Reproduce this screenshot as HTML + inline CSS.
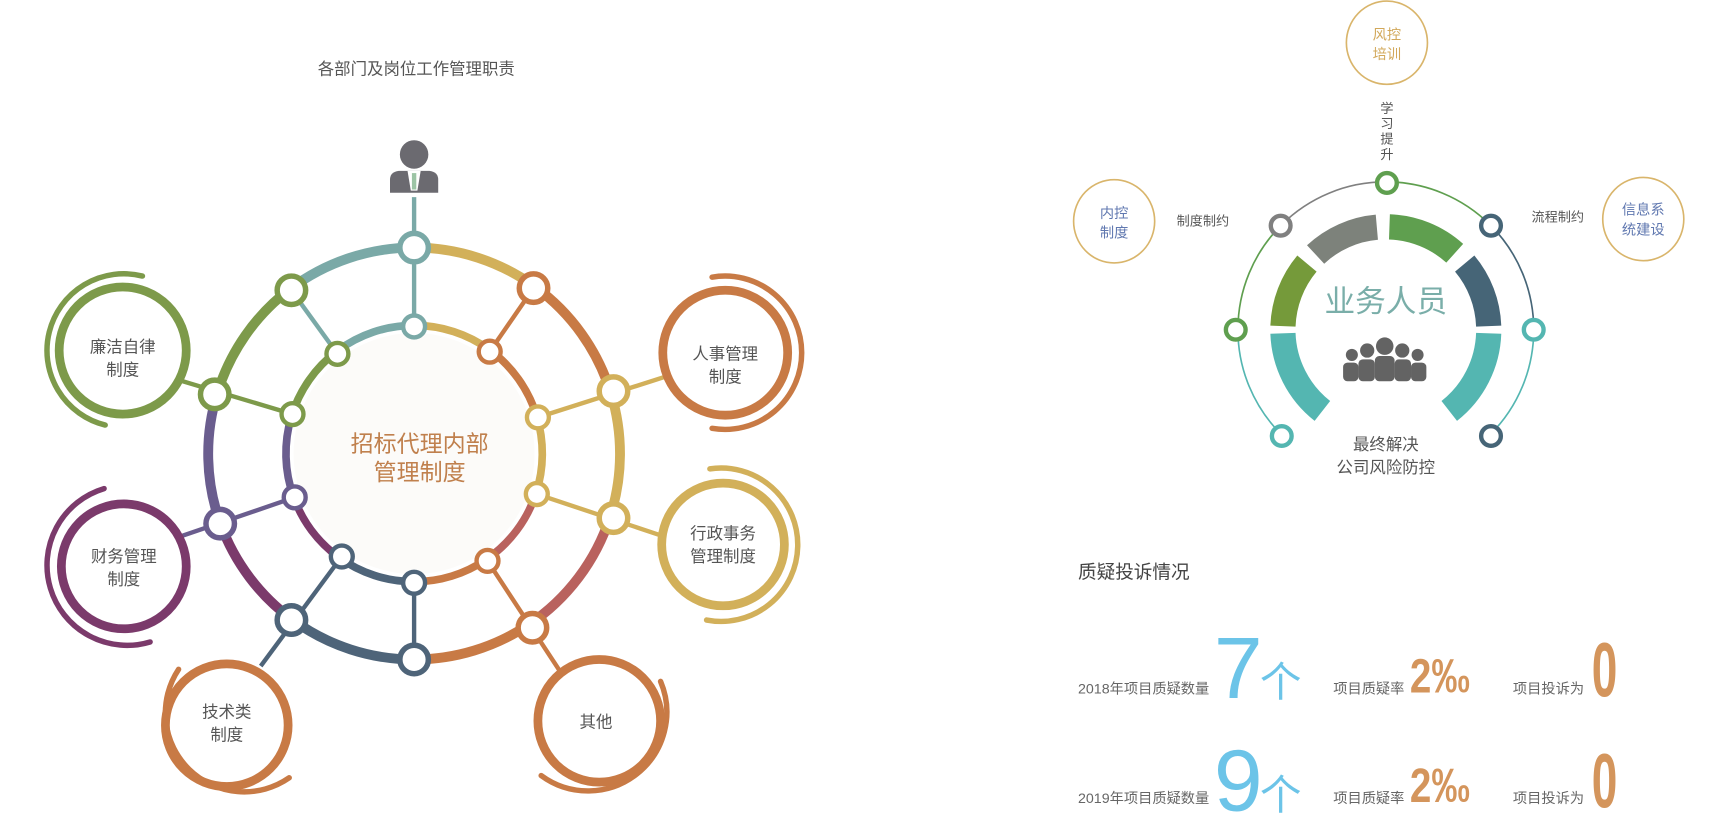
<!DOCTYPE html>
<html><head><meta charset="utf-8"><style>
html,body{margin:0;padding:0;background:#fff;}
svg{display:block;}
text{font-family:"Liberation Sans","Noto Sans CJK SC",sans-serif;}
</style></head><body>
<svg width="1709" height="833" viewBox="0 0 1560 760.4" preserveAspectRatio="none" xmlns="http://www.w3.org/2000/svg">
<rect width="1560" height="761" fill="#fff"/>
<text x="380" y="68" font-size="15" fill="#555" text-anchor="middle">各部门及岗位工作管理职责</text>

<circle cx="378" cy="414" r="110" fill="#fcfbf9"/>

<g fill="none" stroke-width="9">
<path d="M264.8,263.8 A188,188 0 0 1 378,226" stroke="#7aa9a7"/>
<path d="M378,226 A188,188 0 0 1 488.5,261.9" stroke="#d2b05a"/>
<path d="M488.5,261.9 A188,188 0 0 1 557.7,359.1" stroke="#c87a45"/>
<path d="M557.7,359.1 A188,188 0 0 1 556.8,472.1" stroke="#d2b05a"/>
<path d="M556.8,472.1 A188,188 0 0 1 483.1,569.9" stroke="#b9625e"/>
<path d="M483.1,569.9 A188,188 0 0 1 378,602" stroke="#c87a45"/>
<path d="M378,602 A188,188 0 0 1 267.5,566.1" stroke="#4e6479"/>
<path d="M267.5,566.1 A188,188 0 0 1 201.3,478.3" stroke="#7b3a6b"/>
<path d="M201.3,478.3 A188,188 0 0 1 198.3,359.1" stroke="#6a5d8e"/>
<path d="M198.3,359.1 A188,188 0 0 1 264.8,263.8" stroke="#7d9a4a"/>
</g>
<g fill="none" stroke-width="7">
<path d="M307.6,320.6 A117,117 0 0 1 378,297" stroke="#7aa9a7"/>
<path d="M378,297 A117,117 0 0 1 446.8,319.3" stroke="#d2b05a"/>
<path d="M446.8,319.3 A117,117 0 0 1 489.9,379.8" stroke="#c87a45"/>
<path d="M489.9,379.8 A117,117 0 0 1 489.3,450.2" stroke="#d2b05a"/>
<path d="M489.3,450.2 A117,117 0 0 1 443.4,511" stroke="#b9625e"/>
<path d="M443.4,511 A117,117 0 0 1 378,531" stroke="#c87a45"/>
<path d="M378,531 A117,117 0 0 1 309.2,508.7" stroke="#4e6479"/>
<path d="M309.2,508.7 A117,117 0 0 1 268.1,454" stroke="#7b3a6b"/>
<path d="M268.1,454 A117,117 0 0 1 266.1,379.8" stroke="#6a5d8e"/>
<path d="M266.1,379.8 A117,117 0 0 1 307.6,320.6" stroke="#7d9a4a"/>
</g>

<g stroke-width="4">
<line x1="378" y1="180" x2="378" y2="297" stroke="#7aa9a7"/>
<line x1="266" y1="265" x2="308" y2="323" stroke="#7aa9a7"/>
<line x1="487" y1="263" x2="447" y2="321" stroke="#c87a45"/>
<line x1="160" y1="346" x2="267" y2="378" stroke="#7d9a4a"/>
<line x1="607" y1="344" x2="491" y2="381" stroke="#d2b05a"/>
<line x1="158" y1="492" x2="269" y2="454" stroke="#6a5d8e"/>
<line x1="607" y1="490" x2="490" y2="451" stroke="#d2b05a"/>
<line x1="238" y1="608" x2="312" y2="508" stroke="#4e6479"/>
<line x1="512" y1="614" x2="445" y2="512" stroke="#c87a45"/>
<line x1="378" y1="532" x2="378" y2="602" stroke="#4e6479"/>
</g>

<g fill="#fff" stroke-width="5">
<circle cx="378" cy="226" r="13" stroke="#7aa9a7"/>
<circle cx="266" cy="265" r="13" stroke="#7d9a4a"/>
<circle cx="487" cy="263" r="13" stroke="#c87a45"/>
<circle cx="196" cy="360" r="13" stroke="#7d9a4a"/>
<circle cx="560" cy="357" r="13" stroke="#d2b05a"/>
<circle cx="201" cy="478" r="13" stroke="#6a5d8e"/>
<circle cx="560" cy="473" r="13" stroke="#d2b05a"/>
<circle cx="266" cy="566" r="13" stroke="#4e6479"/>
<circle cx="486" cy="573" r="13" stroke="#c87a45"/>
<circle cx="378" cy="602" r="13" stroke="#4e6479"/>
</g>
<g fill="#fff" stroke-width="4">
<circle cx="378" cy="298" r="10" stroke="#7aa9a7"/>
<circle cx="308" cy="323" r="10" stroke="#7d9a4a"/>
<circle cx="447" cy="321" r="10" stroke="#c87a45"/>
<circle cx="267" cy="378" r="10" stroke="#7d9a4a"/>
<circle cx="491" cy="381" r="10" stroke="#d2b05a"/>
<circle cx="269" cy="454" r="10" stroke="#6a5d8e"/>
<circle cx="490" cy="451" r="10" stroke="#d2b05a"/>
<circle cx="312" cy="508" r="10" stroke="#4e6479"/>
<circle cx="445" cy="512" r="10" stroke="#c87a45"/>
<circle cx="378" cy="532" r="10" stroke="#4e6479"/>
</g>

<circle cx="378" cy="141" r="13" fill="#6b6a70"/>
<path d="M356,176 L356,164 Q356,157 364,156 L392,156 Q400,157 400,164 L400,176 Z" fill="#6b6a70"/>
<path d="M372,156 L384,156 L381,174 L375,174 Z" fill="#fff"/>
<path d="M376,158 L380,158 L380,173 L376,173 Z" fill="#9cc4a5"/>

<text x="383" y="412" font-size="21" fill="#c0804d" text-anchor="middle">招标代理内部</text>
<text x="383" y="438" font-size="21" fill="#c0804d" text-anchor="middle">管理制度</text>

<g fill="#fff" stroke-width="8">
<circle cx="112" cy="320" r="58" stroke="#7d9a4a"/>
<circle cx="662" cy="322" r="57" stroke="#c87a45"/>
<circle cx="660" cy="497" r="56" stroke="#d2b05a"/>
<circle cx="113" cy="517" r="57" stroke="#7b3a6b"/>
<circle cx="207" cy="662" r="56" stroke="#c87a45"/>
<circle cx="547" cy="658" r="56" stroke="#c87a45"/>
</g>
<g fill="none" stroke-width="5" stroke-linecap="round">
<path d="M130,252 A70,70 0 1 0 96,388" stroke="#7d9a4a"/>
<path d="M650,253 A70,70 0 1 1 650,391" stroke="#c87a45"/>
<path d="M648,428 A70,70 0 1 1 645,566" stroke="#d2b05a"/>
<path d="M95,446 A72,72 0 0 0 137,586" stroke="#7b3a6b"/>
<path d="M163,611 A72,72 0 0 0 264,710" stroke="#c87a45"/>
<path d="M603,622 A72,72 0 0 1 494,708" stroke="#c87a45"/>
</g>
<g font-size="15" fill="#555" text-anchor="middle">
<text x="112" y="322">廉洁自律</text><text x="112" y="343">制度</text>
<text x="662" y="328">人事管理</text><text x="662" y="349">制度</text>
<text x="660" y="492">行政事务</text><text x="660" y="513">管理制度</text>
<text x="113" y="513">财务管理</text><text x="113" y="534">制度</text>
<text x="207" y="655">技术类</text><text x="207" y="676">制度</text>
<text x="544" y="664">其他</text>
</g>

<g fill="none" stroke-width="1.5">
<path d="M1169.5,396.5 A135,135 0 0 1 1130,301" stroke="#54b6b1"/>
<path d="M1130,301 A135,135 0 0 1 1169.5,205.5" stroke="#5f9f4f"/>
<path d="M1169.5,205.5 A135,135 0 0 1 1265,166" stroke="#808080"/>
<path d="M1265,166 A135,135 0 0 1 1360.5,205.5" stroke="#5f9f4f"/>
<path d="M1360.5,205.5 A135,135 0 0 1 1400,301" stroke="#466577"/>
<path d="M1400,301 A135,135 0 0 1 1360.5,396.5" stroke="#54b6b1"/>
</g>
<g fill="none" stroke-width="23">
<path d="M1268.3,207.1 A94,94 0 0 1 1327.9,231.2" stroke="#5f9f4f"/>
<path d="M1337,240.6 A94,94 0 0 1 1358.9,297.7" stroke="#466577"/>
<path d="M1200.9,232.3 A94,94 0 0 1 1256.8,207.4" stroke="#7d827b"/>
<path d="M1171.1,297.7 A94,94 0 0 1 1193,240.6" stroke="#759a3a"/>
<path d="M1207.1,375.1 A94,94 0 0 1 1171.1,304.3" stroke="#54b6b1"/>
<path d="M1358.9,304.3 A94,94 0 0 1 1322.9,375.1" stroke="#54b6b1"/>
</g>
<g fill="#fff" stroke-width="4">
<circle cx="1266" cy="167" r="9" stroke="#5f9f4f"/>
<circle cx="1169" cy="206" r="9" stroke="#808080"/>
<circle cx="1361" cy="206" r="9" stroke="#466577"/>
<circle cx="1128" cy="301" r="9" stroke="#5f9f4f"/>
<circle cx="1400" cy="301" r="9" stroke="#54b6b1"/>
<circle cx="1170" cy="398" r="9" stroke="#54b6b1"/>
<circle cx="1361" cy="398" r="9" stroke="#466577"/>
</g>
<text x="1265" y="285" font-size="28" fill="#7aaea9" text-anchor="middle">业务人员</text>
<g fill="#636363">
<circle cx="1264" cy="316" r="8"/><rect x="1255" y="325" width="18" height="23" rx="4"/>
<circle cx="1248" cy="320" r="6.5"/><rect x="1240" y="328" width="15" height="20" rx="4"/>
<circle cx="1280" cy="320" r="6.5"/><rect x="1273" y="328" width="15" height="20" rx="4"/>
<circle cx="1234" cy="324" r="5.5"/><rect x="1226" y="331" width="14" height="17" rx="4"/>
<circle cx="1294" cy="324" r="5.5"/><rect x="1288" y="331" width="14" height="17" rx="4"/>
</g>
<text x="1265" y="411" font-size="15" fill="#555" text-anchor="middle">最终解决</text>
<text x="1265" y="432" font-size="15" fill="#555" text-anchor="middle">公司风险防控</text>

<g fill="none" stroke="#d9b56b" stroke-width="1.5">
<ellipse cx="1266" cy="39" rx="37" ry="38"/>
<ellipse cx="1017" cy="202" rx="37" ry="38"/>
<ellipse cx="1500" cy="200" rx="37" ry="38"/>
</g>
<text x="1266" y="36" font-size="13" fill="#d2a85a" text-anchor="middle">风控</text>
<text x="1266" y="54" font-size="13" fill="#d2a85a" text-anchor="middle">培训</text>
<text x="1017" y="199" font-size="13" fill="#6078b0" text-anchor="middle">内控</text>
<text x="1017" y="217" font-size="13" fill="#6078b0" text-anchor="middle">制度</text>
<text x="1500" y="196" font-size="13" fill="#6078b0" text-anchor="middle">信息系</text>
<text x="1500" y="214" font-size="13" fill="#6078b0" text-anchor="middle">统建设</text>
<g font-size="12" fill="#555" text-anchor="middle">
<text x="1266" y="103">学</text><text x="1266" y="117">习</text><text x="1266" y="131">提</text><text x="1266" y="145">升</text>
</g>
<text x="1098" y="206" font-size="12" fill="#555" text-anchor="middle">制度制约</text>
<text x="1422" y="202" font-size="12" fill="#555" text-anchor="middle">流程制约</text>

<text x="984" y="528" font-size="17" fill="#444">质疑投诉情况</text>
<g font-size="13" fill="#666">
<text x="984" y="633">2018年项目质疑数量</text>
<text x="1217" y="633">项目质疑率</text>
<text x="1381" y="633">项目投诉为</text>
<text x="984" y="733">2019年项目质疑数量</text>
<text x="1217" y="733">项目质疑率</text>
<text x="1381" y="733">项目投诉为</text>
</g>
<g fill="#6cc4e8">
<text x="1108" y="637" font-size="80">7</text>
<text x="1108" y="740" font-size="80">9</text>
<text x="1150" y="636" font-size="38">个</text>
<text x="1150" y="739" font-size="38">个</text>
</g>
<g fill="#d4955c" font-weight="bold">
<text x="1287" y="632" font-size="44" transform="translate(1287 632) scale(0.8 1) translate(-1287 -632)">2‰</text>
<text x="1287" y="732" font-size="44" transform="translate(1287 732) scale(0.8 1) translate(-1287 -732)">2‰</text>
<text x="1453" y="636" font-size="70" transform="translate(1453 636) scale(0.6 1) translate(-1453 -636)">0</text>
<text x="1453" y="737" font-size="70" transform="translate(1453 737) scale(0.6 1) translate(-1453 -737)">0</text>
</g>
</svg>
</body></html>
